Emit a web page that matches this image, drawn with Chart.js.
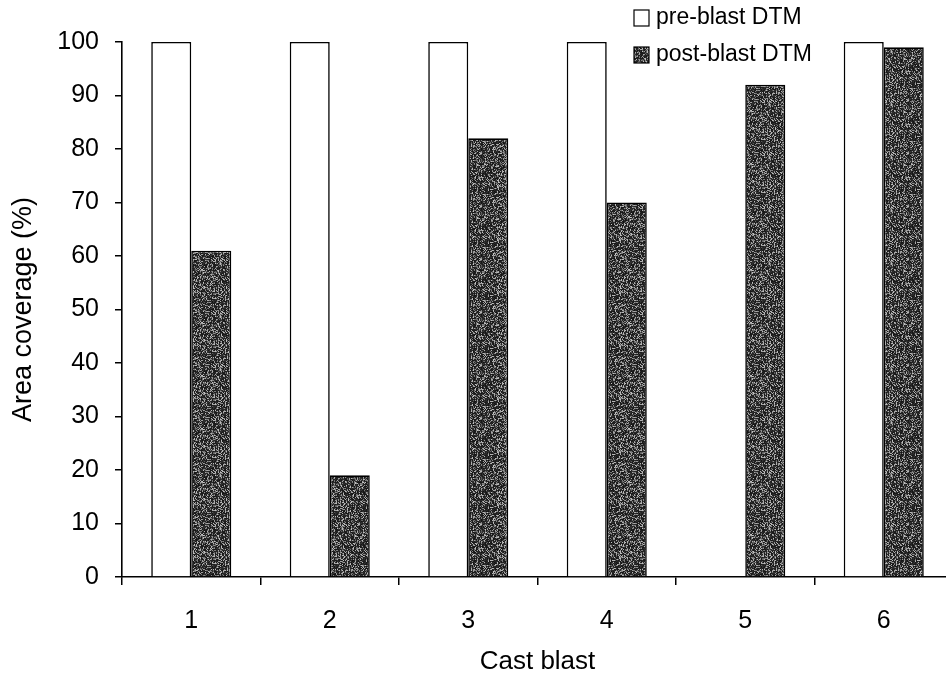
<!DOCTYPE html>
<html>
<head>
<meta charset="utf-8">
<title>Area coverage per cast blast</title>
<script src="https://cdn.jsdelivr.net/npm/chart.js@4/dist/chart.umd.min.js"></script>
<style>
  html, body { margin: 0; padding: 0; background: #fff; overflow: hidden; }
  #wrap { width: 954px; height: 675px; }
</style>
</head>
<body>
<div id="wrap"><canvas id="coverageChart"></canvas></div>
<script>
// Data
const castBlasts = ["1", "2", "3", "4", "5", "6"];
const preBlastDTM = [100, 100, 100, 100, 0, 100];
const postBlastDTM = [61, 19, 82, 70, 92, 99];
const yTicks = [0, 10, 20, 30, 40, 50, 60, 70, 80, 90, 100];

const FONT = "'Liberation Sans', Arial, Helvetica, sans-serif";

// grainy dark-grey fill, fixed hash so it looks the same on every load
function grainFill() {
  const c = document.createElement("canvas");
  c.width = 61;
  c.height = 53;
  const g = c.getContext("2d");
  const img = g.createImageData(c.width, c.height);
  for (let i = 0; i < c.width * c.height; i++) {
    let h = Math.imul(i + 17, 2654435761) >>> 0;
    h ^= h >>> 15;
    h = Math.imul(h, 2246822519) >>> 0;
    h ^= h >>> 13;
    const t = (h & 255) / 255;
    const v = t < 0.62 ? 18 + t * 55 : 85 + (t - 0.62) * 290;
    img.data[i * 4] = img.data[i * 4 + 1] = img.data[i * 4 + 2] = v;
    img.data[i * 4 + 3] = 255;
  }
  g.putImageData(img, 0, 0);
  return g.createPattern(c, "repeat");
}
const grain = grainFill();

// legend drawn by hand in the top right corner
const cornerLegend = {
  id: "cornerLegend",
  afterDraw(chart) {
    const ctx = chart.ctx;
    ctx.save();
    ctx.font = "23px " + FONT;
    ctx.textBaseline = "middle";
    ctx.textAlign = "left";
    chart.data.datasets.forEach((ds, i) => {
      const y = 18 + i * 37;
      ctx.fillStyle = ds.backgroundColor;
      ctx.fillRect(634, y - 8, 15, 16);
      ctx.strokeStyle = "#000";
      ctx.lineWidth = 1.2;
      ctx.strokeRect(634, y - 8, 15, 16);
      ctx.fillStyle = "#000";
      ctx.fillText(ds.label, 656, y);
    });
    ctx.restore();
  }
};

new Chart(document.getElementById("coverageChart"), {
  type: "bar",
  data: {
    labels: castBlasts,
    datasets: [
      {
        label: "pre-blast DTM",
        data: preBlastDTM,
        backgroundColor: "#ffffff",
        borderColor: "#000000",
        borderWidth: 1.6
      },
      {
        label: "post-blast DTM",
        data: postBlastDTM,
        backgroundColor: grain,
        borderColor: "#000000",
        borderWidth: 1.6
      }
    ]
  },
  options: {
    responsive: true,
    maintainAspectRatio: false,
    animation: false,
    layout: { padding: { top: 42, right: 1, bottom: 0, left: 0 } },
    datasets: {
      bar: { categoryPercentage: 0.578, barPercentage: 1.0 }
    },
    plugins: {
      legend: { display: false },
      tooltip: { enabled: false }
    },
    scales: {
      x: {
        grid: {
          display: true,
          offset: true,
          drawOnChartArea: false,
          tickLength: 8,
          color: "#000",
          lineWidth: 1.5
        },
        border: { display: true, color: "#000", width: 1.6 },
        ticks: {
          color: "#000",
          font: { family: FONT, size: 25 },
          padding: 21
        },
        title: {
          display: true,
          text: "Cast blast",
          color: "#000",
          font: { family: FONT, size: 26, lineHeight: 1 },
          padding: { top: 0, bottom: 0 }
        },
        afterFit: scale => { scale.height = 98; }
      },
      y: {
        min: 0,
        max: 100,
        afterBuildTicks: scale => {
          scale.ticks = yTicks.map(v => ({ value: v }));
        },
        grid: {
          display: true,
          drawOnChartArea: false,
          tickLength: 7,
          color: "#000",
          lineWidth: 1.5
        },
        border: { display: true, color: "#000", width: 1.6 },
        ticks: {
          color: "#000",
          font: { family: FONT, size: 25 },
          padding: 16
        },
        title: {
          display: true,
          text: "Area coverage (%)",
          color: "#000",
          font: { family: FONT, size: 27, lineHeight: 1 },
          padding: { top: 10, bottom: 0 }
        },
        afterFit: scale => { scale.width = 122; }
      }
    }
  },
  plugins: [cornerLegend]
});
</script>
</body>
</html>
